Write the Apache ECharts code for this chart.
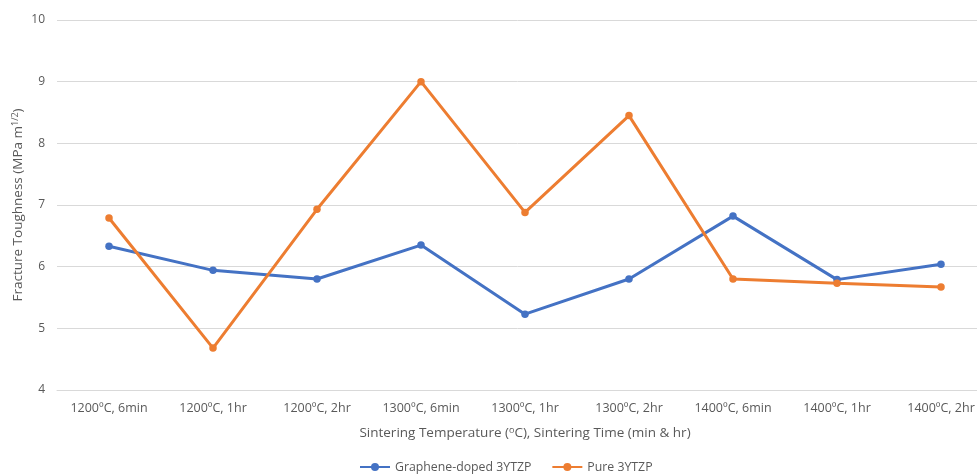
<!DOCTYPE html>
<html>
<head>
<meta charset="utf-8">
<script src="https://cdn.jsdelivr.net/npm/echarts@6/dist/echarts.min.js"></script>
<style>
  html, body { margin: 0; padding: 0; background: #fff; }
  #chart { width: 977px; height: 476px; }
</style>
</head>
<body>
<div id="chart"></div>
<script>
// Sintering conditions (temperature, hold time)
const categories = [
  '1200ºC, 6min', '1200ºC, 1hr', '1200ºC, 2hr',
  '1300ºC, 6min', '1300ºC, 1hr', '1300ºC, 2hr',
  '1400ºC, 6min', '1400ºC, 1hr', '1400ºC, 2hr'
];

// Fracture toughness, MPa·m^1/2
const grapheneDoped = [6.33, 5.94, 5.80, 6.35, 5.23, 5.80, 6.82, 5.79, 6.04];
const pure3YTZP = [6.79, 4.68, 6.93, 9.00, 6.88, 8.45, 5.80, 5.73, 5.67];

const yMin = 4, yMax = 10, yStep = 1;

const textColor = '#595959';
const fontFamily = '"Open Sans", "Liberation Sans", sans-serif';

const chart = echarts.init(document.getElementById('chart'));
chart.setOption({
  animation: false,
  textStyle: { fontFamily: fontFamily, color: textColor },
  // plot area runs past the right edge of the canvas
  grid: { left: 57, width: 936, top: 20, height: 370, containLabel: false, outerBoundsMode: 'none' },
  legend: {
    left: 359,
    top: 461,
    padding: 0,
    itemWidth: 30,
    itemHeight: 10,
    itemGap: 20,
    textStyle: { fontSize: 12.3, color: textColor, fontFamily: fontFamily },
    data: ['Graphene-doped 3YTZP', 'Pure 3YTZP']
  },
  xAxis: {
    type: 'category',
    data: categories,
    boundaryGap: true,
    axisLine: { show: true, lineStyle: { color: '#d9d9d9', width: 1 } },
    axisTick: { show: false },
    axisLabel: { color: textColor, fontSize: 12.5, margin: 12, interval: 0 },
    name: '{t|Sintering Temperature (}{s|o}{t|C), Sintering Time (min & hr)}',
    nameLocation: 'middle',
    nameGap: 36,
    nameMoveOverlap: false,
    nameTextStyle: {
      rich: {
        t: { fontSize: 13.5, color: textColor, fontFamily: fontFamily },
        s: { fontSize: 9, color: textColor, fontFamily: fontFamily, verticalAlign: 'top', padding: [0, 0, 6, 0] }
      }
    }
  },
  yAxis: {
    type: 'value',
    min: yMin,
    max: yMax,
    interval: yStep,
    axisLine: { show: false },
    axisTick: { show: false },
    splitLine: { lineStyle: { color: '#d9d9d9', width: 1 } },
    axisLabel: { color: textColor, fontSize: 12, margin: 12 },
    name: '{t|Fracture Toughness (MPa m}{s|1/2}{t|)}',
    nameLocation: 'middle',
    nameGap: 31,
    nameMoveOverlap: false,
    nameTextStyle: {
      rich: {
        t: { fontSize: 13.5, color: textColor, fontFamily: fontFamily },
        s: { fontSize: 9, color: textColor, fontFamily: fontFamily, verticalAlign: 'top', padding: [0, 0, 6, 0] }
      }
    }
  },
  series: [
    {
      name: 'Graphene-doped 3YTZP',
      type: 'line',
      data: grapheneDoped,
      symbol: 'circle',
      symbolSize: 7.5,
      lineStyle: { color: '#4472C4', width: 3 },
      itemStyle: { color: '#4472C4' }
    },
    {
      name: 'Pure 3YTZP',
      type: 'line',
      data: pure3YTZP,
      symbol: 'circle',
      symbolSize: 7.5,
      lineStyle: { color: '#ED7D31', width: 3 },
      itemStyle: { color: '#ED7D31' }
    }
  ]
});
</script>
</body>
</html>
